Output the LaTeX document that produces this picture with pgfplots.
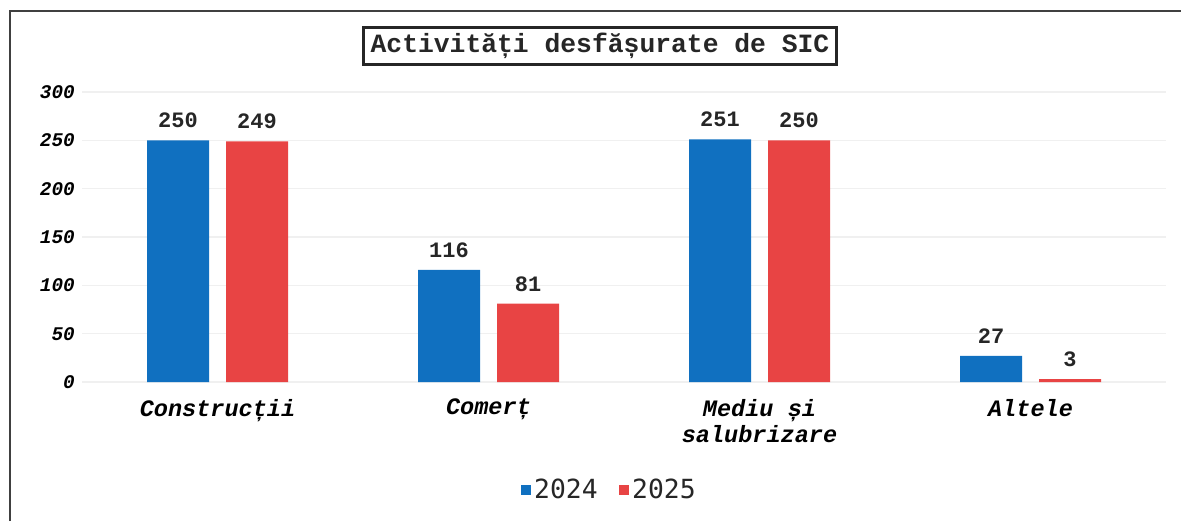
\documentclass[border=0pt]{standalone}
\usepackage{pgfplots}
\pgfplotsset{compat=1.18}
\usepackage{fontspec}
\setmainfont{Liberation Mono}
\newfontfamily\legfont{DejaVu Sans Mono}
\definecolor{cblue}{RGB}{16,112,192}
\definecolor{cred}{RGB}{232,68,68}
\begin{document}
\begin{tikzpicture}
\useasboundingbox (0,0) rectangle (23.62cm,10.42cm);
% outer frame (left and top edges)
\draw[line width=1.6pt, black!75] (0.2cm,0) -- (0.2cm,10.2cm) -- (23.62cm,10.2cm);
\begin{axis}[
  at={(1.64cm,2.78cm)}, anchor=south west,
  scale only axis, width=21.68cm, height=5.8cm,
  xmin=-0.5, xmax=3.5, ymin=0, ymax=300,
  ytick={0,50,100,150,200,250,300},
  xtick={0,1,2,3},
  xticklabels={Construcții,Comerț,{Mediu și\\salubrizare},Altele},
  axis line style={draw=none},
  major tick length=0pt,
  ymajorgrids, grid style={black!6, line width=0.6pt},
  /pgf/number format/assume math mode=true,
  yticklabel style={font=\fontsize{11}{13}\selectfont\bfseries\itshape, anchor=east, xshift=-0.02cm},
  xticklabel style={font=\fontsize{13.4}{14.8}\selectfont\bfseries\itshape, align=center, anchor=north, yshift=-0.22cm},
  ybar=0.34cm, bar width=1.24cm,
  nodes near coords,
  every node near coord/.append style={font=\fontsize{12.5}{14}\selectfont\bfseries, black!85, yshift=0.12cm},
  legend style={at={(0.487,-0.372)}, anchor=center, legend columns=2, draw=none,
    font=\legfont\fontsize{15}{17}\selectfont, text=black!85,
    /tikz/every even column/.append style={column sep=0.35cm}},
  legend image code/.code={\fill[#1] (0cm,-0.1cm) rectangle (0.2cm,0.1cm);},
]
\addplot[fill=cblue, draw=none] coordinates {(0,250) (1,116) (2,251) (3,27)};
\addplot[fill=cred, draw=none] coordinates {(0,249) (1,81) (2,250) (3,3)};
\legend{2024,2025}
\end{axis}
\node[draw=black!85, line width=1.6pt, inner xsep=0.15cm, minimum height=0.74cm, font=\fontsize{15}{17}\selectfont\bfseries, text=black!85] at (12.0cm,9.5cm) {Activități desfășurate de SIC};
\end{tikzpicture}
\end{document}
